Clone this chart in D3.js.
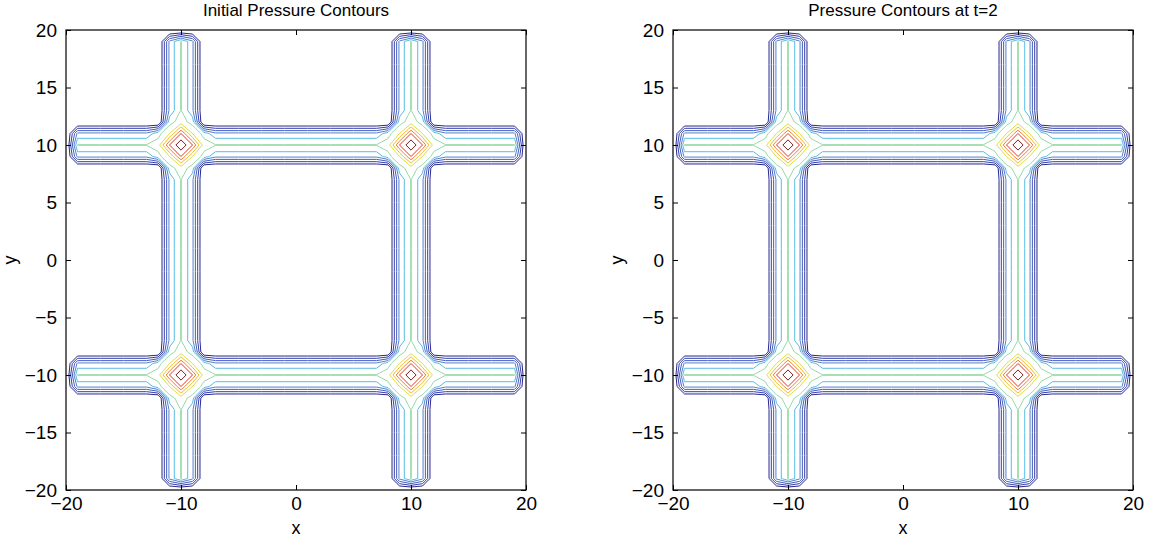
<!DOCTYPE html>
<html>
<head>
<meta charset="utf-8">
<script src="https://cdn.jsdelivr.net/npm/d3@7"></script>
<style>
body{margin:0;background:#fff}
text{font-family:"Liberation Sans",Arial,sans-serif;fill:#000}
</style>
</head>
<body>
<div id="chart"></div>
<script>
// pressure grid: one node per unit from -20 to 20, boundary nodes held at 0
let gridMin=-20, gridMax=20, gridStep=1
let channelCentres=[-10,10]
// pressure by distance (grid steps) from a channel centre line
let channelProfile=[1.36,1.0,0]
// pressure round a junction: row = |dy|, column = |dx| in grid steps
let junctionRows=[
    [2.51,2.15,1.45,1.36],
    [2.15,1.55,1.27,1.0],
    [1.45,1.27,0,0],
    [1.36,1.0,0,0]
]
let contourLevels=[0.35,0.55,0.75,0.95,1.15,1.35,1.55,1.75,1.95,2.15,2.35]
let levelColors=["#1b1b86","#2a36a8","#3a54b8","#4d78c8","#4fb8e4","#92d8a2",
                 "#dcdc30","#f0b820","#f07820","#e02a1a","#7a1010"]
let titles=["Initial Pressure Contours","Pressure Contours at t=2"]
let xTicks=[-20,-10,0,10,20]
let yTicks=[-20,-15,-10,-5,0,5,10,15,20]

let svgWidth=1156, svgHeight=542
let plotW=460, plotH=460, plotTop=30
let panelLeft=[66,673]

// build the grid of node values
let n=Math.round((gridMax-gridMin)/gridStep)+1
let values=new Array(n*n)
for(let j=0;j<n;j++){
    for(let i=0;i<n;i++){
        let v=0
        if(i>0&&i<n-1&&j>0&&j<n-1){
            let x=gridMin+i*gridStep, y=gridMin+j*gridStep
            let dx=Math.round(d3.min(channelCentres,c=>Math.abs(x-c))/gridStep)
            let dy=Math.round(d3.min(channelCentres,c=>Math.abs(y-c))/gridStep)
            if(dx<junctionRows.length&&dy<junctionRows.length){
                v=junctionRows[dy][dx]
            } else {
                let d=Math.min(dx,dy)
                v=d<channelProfile.length?channelProfile[d]:0
            }
        }
        values[j*n+i]=v
    }
}
let contours=d3.contours().size([n,n]).thresholds(contourLevels)(values)
let colorScale=d3.scaleOrdinal().domain(contourLevels).range(levelColors)

let svg=d3.select("#chart").append("svg")
    .attr("width",svgWidth)
    .attr("height",svgHeight)

titles.forEach(function(title,k){
    let left=panelLeft[k]
    let xScale=d3.scaleLinear().domain([gridMin,gridMax]).range([0,plotW])
    let yScale=d3.scaleLinear().domain([gridMin,gridMax]).range([plotH,0])
    let g=svg.append("g").attr("transform",`translate(${left},${plotTop})`)

    // grid index space -> data -> pixels (node i sits at i+0.5 in d3.contours output)
    let proj=d3.geoTransform({
        point:function(gx,gy){
            this.stream.point(xScale(gridMin+(gx-0.5)*gridStep),yScale(gridMin+(gy-0.5)*gridStep))
        }
    })
    let path=d3.geoPath(proj)

    g.append("clipPath").attr("id","clip"+k)
        .append("rect").attr("width",plotW).attr("height",plotH)

    g.append("g").attr("clip-path",`url(#clip${k})`)
        .selectAll("path")
        .data(contours)
        .enter()
        .append("path")
        .attr("d",path)
        .attr("fill","none")
        .attr("stroke",d=>colorScale(d.value))
        .attr("stroke-width",0.95)
        .attr("stroke-linejoin","round")

    // axes, ticks pointing inward on all four sides
    g.append("g").attr("transform",`translate(0,${plotH})`)
        .call(d3.axisBottom(xScale).tickValues(xTicks).tickSize(-5).tickPadding(7))
    g.append("g")
        .call(d3.axisLeft(yScale).tickValues(yTicks).tickSize(-5).tickPadding(9))
    g.append("g")
        .call(d3.axisTop(xScale).tickValues(xTicks).tickSize(-5).tickFormat(""))
    g.append("g").attr("transform",`translate(${plotW},0)`)
        .call(d3.axisRight(yScale).tickValues(yTicks).tickSize(-5).tickFormat(""))
    g.selectAll(".domain").remove()
    g.selectAll(".tick line").attr("stroke","#000").attr("stroke-width",1)
    g.selectAll(".tick text").attr("font-size",19).attr("font-family","Liberation Sans, Arial, sans-serif").attr("fill","#000")

    g.append("rect")
        .attr("width",plotW).attr("height",plotH)
        .attr("fill","none").attr("stroke","#000").attr("stroke-width",1.2)

    // labels
    g.append("text")
        .attr("x",plotW/2).attr("y",-14)
        .attr("text-anchor","middle").attr("font-size",17)
        .text(title)
    g.append("text")
        .attr("x",plotW/2).attr("y",plotH+44)
        .attr("text-anchor","middle").attr("font-size",18)
        .text("x")
    g.append("text")
        .attr("transform",`translate(-50,${plotH/2}) rotate(-90)`)
        .attr("text-anchor","middle").attr("font-size",18)
        .text("y")
})
</script>
</body>
</html>
